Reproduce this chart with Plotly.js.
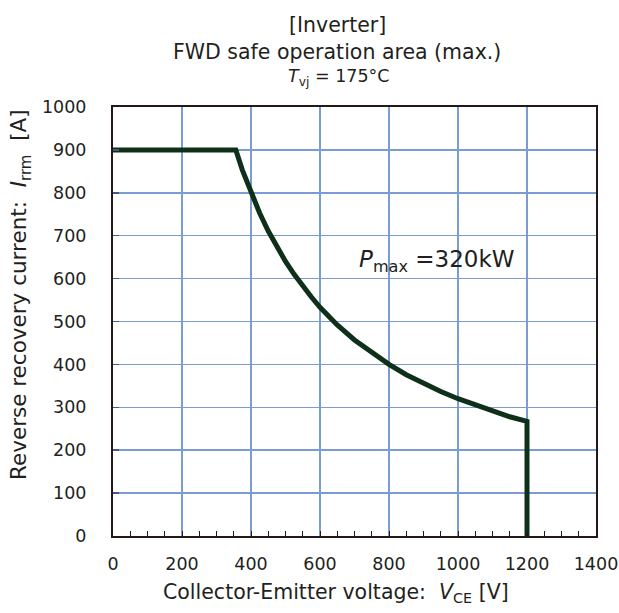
<!DOCTYPE html>
<html>
<head>
<meta charset="utf-8">
<script src="https://cdn.plot.ly/plotly-3.0.1.min.js"></script>
<style>html,body{margin:0;padding:0;background:#fff;}#chart{width:619px;height:613px;}</style>
</head>
<body>
<div id="chart"></div>
<script>
// Collector-Emitter voltage V_CE [V]
var vce = [0, 356, 375, 400, 425, 450, 475, 500, 525, 550, 575, 600, 650, 700, 750, 800, 850, 900, 950, 1000, 1050, 1100, 1150, 1200, 1200];
// Reverse recovery current I_rrm [A]
var irrm = [900, 900, 853, 800, 753, 711, 674, 640, 610, 582, 557, 533, 492, 457, 427, 400, 376, 356, 337, 320, 305, 291, 278, 267, 0];

var xTickVals = [0, 200, 400, 600, 800, 1000, 1200, 1400];
var yTickVals = [0, 100, 200, 300, 400, 500, 600, 700, 800, 900, 1000];

var titleLines = ["[Inverter]", "FWD safe operation area (max.)", "<i>T</i><sub>vj</sub> = 175°C"];
var pmaxLabel = "<i>P</i><sub>max</sub> =320kW";
var xTitle = "Collector-Emitter voltage:&nbsp; <i>V</i><sub>CE</sub> [V]";
var yTitle = "Reverse recovery current:&nbsp; <i>I</i><sub>rrm</sub>&nbsp; [A]";

var font = "DejaVu Sans, Liberation Sans, Arial, sans-serif";
var txt = "#231f20";
var grid = "#7b9bd3";
var axisCol = "#231815";

var trace = {
  x: vce, y: irrm, type: "scatter", mode: "lines",
  line: {color: "#0e3019", width: 5},
  hoverinfo: "skip", showlegend: false, cliponaxis: false
};

var W = 619, H = 613, L = 113, R = 23, T = 107, B = 77;
var pw = W - L - R, ph = H - T - B;
function px2x(p) { return (p - L) / pw; }
function py2y(p) { return (H - B - p) / ph; }

var layout = {
  width: W, height: H,
  margin: {l: L, r: R, t: T, b: B, pad: 0},
  paper_bgcolor: "#fff", plot_bgcolor: "#fff",
  font: {family: font, size: 18, color: txt},
  xaxis: {
    range: [0, 1400], tickvals: xTickVals, ticktext: xTickVals.map(String),
    showgrid: true, gridcolor: grid, gridwidth: 1.5,
    showline: true, linecolor: axisCol, linewidth: 2, mirror: true,
    ticks: "inside", ticklen: 5, tickcolor: axisCol, tickwidth: 1,
    minor: {dtick: 50, tick0: 0, ticks: "inside", ticklen: 5, tickcolor: axisCol, tickwidth: 1, showgrid: false},
    ticklabelstandoff: 11,
    zeroline: false, fixedrange: true,
    tickfont: {family: font, size: 17.5, color: txt}
  },
  yaxis: {
    range: [0, 1000], tickvals: yTickVals, ticktext: yTickVals.map(String),
    showgrid: true, gridcolor: grid, gridwidth: 1.5,
    showline: true, linecolor: axisCol, linewidth: 2, mirror: true,
    ticks: "inside", ticklen: 6, tickcolor: "#4a5a78", tickwidth: 1.5,
    ticklabelstandoff: 21,
    zeroline: false, fixedrange: true,
    tickfont: {family: font, size: 17.5, color: txt}
  },
  annotations: [
    {text: titleLines[0], xref: "paper", yref: "paper", x: px2x(337), y: py2y(25), xanchor: "center", yanchor: "middle", showarrow: false, font: {family: font, size: 20.5, color: txt}},
    {text: titleLines[1], xref: "paper", yref: "paper", x: px2x(337), y: py2y(52), xanchor: "center", yanchor: "middle", showarrow: false, font: {family: font, size: 20.5, color: txt}},
    {text: titleLines[2], xref: "paper", yref: "paper", x: px2x(339), y: py2y(78), xanchor: "center", yanchor: "middle", showarrow: false, font: {family: font, size: 17.5, color: txt}},
    {text: pmaxLabel, xref: "x", yref: "y", x: 707, y: 640, xanchor: "left", yanchor: "middle", showarrow: false, font: {family: font, size: 23, color: txt}},
    {text: xTitle, xref: "paper", yref: "paper", x: px2x(336), y: py2y(593), xanchor: "center", yanchor: "middle", showarrow: false, font: {family: font, size: 20.5, color: txt}},
    {text: yTitle, xref: "paper", yref: "paper", x: px2x(20), y: py2y(295), xanchor: "center", yanchor: "middle", textangle: -90, showarrow: false, font: {family: font, size: 21.5, color: txt}}
  ]
};

Plotly.newPlot("chart", [trace], layout, {staticPlot: true, displayModeBar: false});
</script>
</body>
</html>
